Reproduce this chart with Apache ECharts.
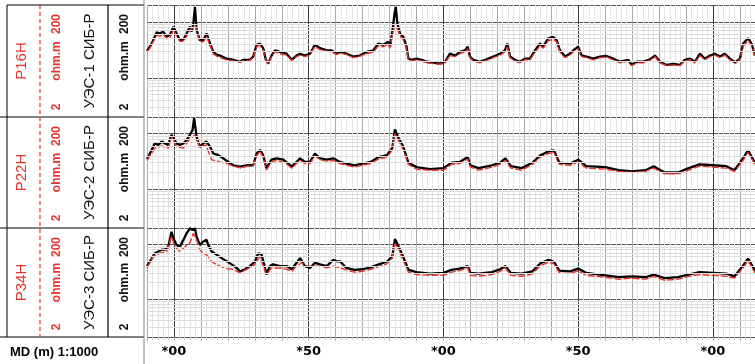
<!DOCTYPE html>
<html>
<head>
<meta charset="utf-8">
<script src="https://cdn.jsdelivr.net/npm/echarts@6/dist/echarts.min.js"></script>
<style>
  html, body { margin: 0; padding: 0; background: #fff; }
  #chart { width: 755px; height: 364px; }
</style>
</head>
<body>
<div id="chart"></div>
<script>
// depth is metres from the first "*00" mark, resistivity in ohm.m
const track1Black = [
  [-10, 30], [-8.9, 36], [-7.7, 47], [-6.4, 65], [-5.2, 62], [-4.0, 67], [-2.7, 54], [-1.5, 58],
  [-0.2, 82], [1.0, 62], [2.2, 47], [3.5, 48], [4.7, 62], [5.9, 82], [6.6, 67], [7.2, 94],
  [7.8, 186], [8.4, 72], [9.6, 47], [10.9, 47], [12.1, 62], [13.4, 41], [14.6, 29], [15.8, 26],
  [17.1, 25], [19.6, 22], [22.0, 21], [24.5, 19.4], [25.7, 21], [28.2, 21], [29.4, 24], [30.7, 39],
  [31.9, 41], [33.1, 34], [34.1, 21], [35.0, 18], [36.2, 25], [37.5, 31], [39.3, 29], [41.8, 27],
  [43.7, 21], [45.5, 25], [46.8, 27], [48.6, 25], [50.5, 27], [52.3, 39], [54.2, 34], [56.7, 31],
  [58.5, 31], [60.4, 27], [61.6, 29], [64.1, 27], [66.5, 24], [69.0, 25], [71.5, 29], [74.0, 31],
  [75.8, 41], [77.7, 39], [79.5, 44], [80.2, 36], [81.1, 72], [81.8, 133], [82.3, 186], [82.9, 94],
  [83.9, 62], [85.1, 54], [86.3, 36], [87.0, 22], [88.2, 21], [90.0, 22], [91.9, 21], [93.8, 19.4],
  [96.2, 18.8], [98.7, 18], [100.6, 19.4], [102.4, 27], [104.3, 25], [106.1, 29], [108.0, 31],
  [109.0, 36], [109.8, 24], [111.1, 21], [113.5, 19.4], [116.0, 21.4], [118.5, 24], [121.0, 27],
  [122.8, 31], [123.7, 41], [124.7, 24], [126.5, 21], [128.4, 19.4], [130.2, 22], [132.1, 22],
  [134.0, 31], [135.8, 41], [137.0, 36], [138.9, 51], [140.7, 54], [142.0, 47], [143.2, 31],
  [145.1, 24], [146.9, 27], [148.2, 31], [150.0, 36], [151.3, 25], [153.1, 24], [155.6, 22],
  [158.1, 24], [160.5, 24.6], [163.0, 22], [165.5, 19.4], [168.6, 21], [169.8, 17], [171.7, 19.4],
  [174.1, 19.4], [176.6, 21.4], [178.5, 25], [180.3, 19.4], [182.8, 17], [185.3, 17.7], [187.7, 17],
  [189.6, 21], [191.5, 22], [193.3, 19.4], [195.2, 27], [197.0, 22], [198.9, 25], [200.7, 27],
  [202.6, 24], [204.4, 27], [206.3, 22], [208.2, 18.8], [210.0, 22], [211.2, 41], [213.1, 51],
  [214.3, 41], [215.6, 25]
];
const track1Red = [
  [-10, 29], [-8.9, 34], [-7.7, 44], [-6.4, 58], [-5.2, 55], [-4.0, 60], [-2.7, 50], [-1.5, 52],
  [-0.2, 72], [1.0, 56], [2.2, 45], [3.5, 45], [4.7, 55], [5.9, 70], [7.2, 80], [7.8, 88],
  [8.4, 66], [9.6, 45], [10.9, 44], [12.1, 55], [13.4, 38], [14.6, 27], [15.8, 24.5], [17.1, 23],
  [19.6, 21], [22.0, 20], [24.5, 19], [25.7, 20], [28.2, 20.5], [29.4, 23], [30.7, 36], [31.9, 38],
  [33.1, 31], [34.1, 20], [35.0, 17.5], [36.2, 24], [37.5, 29], [39.3, 27], [41.8, 25.5], [43.7, 20.5],
  [45.5, 24], [46.8, 25.5], [48.6, 24], [50.5, 26], [52.3, 36], [54.2, 32], [56.7, 30], [58.5, 29],
  [60.4, 26], [61.6, 28], [64.1, 26], [66.5, 23], [69.0, 24.5], [71.5, 27], [74.0, 29], [75.8, 37],
  [77.7, 36], [79.5, 40], [80.2, 34], [81.1, 60], [81.8, 82], [82.3, 88], [82.9, 75], [83.9, 56],
  [85.1, 48], [86.3, 33], [87.0, 21], [88.2, 20], [90.0, 21], [91.9, 20], [93.8, 18.5], [96.2, 18],
  [98.7, 17.5], [100.6, 18.5], [102.4, 25], [104.3, 24], [106.1, 27], [108.0, 29], [109.0, 33],
  [109.8, 23], [111.1, 20], [113.5, 18.5], [116.0, 20.5], [118.5, 23], [121.0, 25.5], [122.8, 29],
  [123.7, 36], [124.7, 23], [126.5, 20], [128.4, 18.5], [130.2, 21], [132.1, 21], [134.0, 29],
  [135.8, 37], [137.0, 34], [138.9, 46], [140.7, 49], [142.0, 44], [143.2, 29], [145.1, 23],
  [146.9, 25.5], [148.2, 29], [150.0, 33], [151.3, 24], [153.1, 23], [155.6, 21], [158.1, 23],
  [160.5, 23.5], [163.0, 21], [165.5, 18.5], [168.6, 20], [169.8, 16.5], [171.7, 18.5], [174.1, 18.5],
  [176.6, 20.5], [178.5, 24], [180.3, 18.5], [182.8, 16.5], [185.3, 17], [187.7, 16.5], [189.6, 20],
  [191.5, 21], [193.3, 18.5], [195.2, 25], [197.0, 21], [198.9, 24], [200.7, 25.5], [202.6, 23],
  [204.4, 25.5], [206.3, 21], [208.2, 18], [210.0, 21], [211.2, 37], [213.1, 46], [214.3, 38],
  [215.6, 24]
];

const track2Black = [
  [-10, 35], [-8.9, 44], [-7.1, 67], [-5.8, 63], [-4.6, 72], [-3.3, 67], [-2.1, 63], [-0.9, 95],
  [-0.2, 88], [1.0, 67], [2.2, 63], [3.5, 67], [4.7, 77], [5.9, 95], [6.9, 117], [7.5, 190],
  [8.4, 88], [9.6, 58], [10.9, 67], [12.1, 72], [13.4, 58], [14.6, 44], [16.5, 41], [18.3, 36],
  [20.2, 31], [22.0, 27], [24.5, 25.5], [27.0, 27], [29.4, 27], [30.7, 44], [31.9, 51], [33.1, 41],
  [34.3, 24], [36.2, 34], [38.1, 36], [40.6, 34], [42.4, 29], [43.7, 25.5], [45.5, 31], [46.8, 36],
  [48.6, 31], [50.5, 31], [52.3, 44], [54.2, 36], [56.7, 34], [59.1, 36], [61.6, 31],
  [64, 29], [67, 27], [70, 29], [73, 31], [76, 38], [79, 41], [81, 55], [82, 120], [83, 90],
  [85, 60], [87, 30], [90, 25], [95, 23], [100, 24], [103, 30], [106, 31], [109, 38], [110, 27],
  [113, 24], [118, 27], [121, 30], [123, 36], [125, 26], [129, 24], [133, 30], [136, 41], [139, 48],
  [141, 50], [143, 30], [147, 29], [150, 34], [153, 26], [160, 25], [165, 22], [170, 21], [175, 22],
  [178, 26], [182, 20], [187, 20], [191, 24], [195, 28], [200, 27], [205, 26], [208, 22], [211, 35],
  [213, 50], [215.6, 30]
];
const track2Red = [
  [-10, 33], [-8.9, 40], [-7.1, 55], [-4.6, 60], [-2.1, 55], [-0.8, 88], [1.0, 58], [3.5, 55],
  [5.9, 80], [7.7, 95], [9.6, 58], [11.9, 63], [13.0, 45], [14.0, 34], [17.0, 31], [19.6, 29],
  [22.8, 25.5], [25.0, 24], [27.0, 26], [29.4, 27], [30.7, 40], [31.9, 48], [33.1, 38], [34.3, 22],
  [36.2, 31], [38.1, 33], [40.6, 31], [42.4, 27], [43.7, 24], [45.5, 29], [46.8, 33], [48.6, 29],
  [50.5, 29], [52.3, 40], [54.2, 34], [56.7, 32], [59.1, 33], [61.6, 29],
  [64, 27], [67, 25], [70, 27], [73, 29], [76, 35], [79, 38], [81, 50], [82, 100], [83, 80],
  [85, 52], [87, 28], [90, 23], [95, 22], [100, 22], [103, 28], [106, 29], [109, 35], [110, 25],
  [113, 22], [118, 25], [121, 28], [123, 33], [125, 24], [129, 22], [133, 28], [136, 38], [139, 44],
  [141, 46], [143, 28], [147, 27], [150, 31], [153, 24], [160, 23], [165, 21], [170, 20], [175, 21],
  [178, 24], [182, 19], [187, 19], [191, 22], [195, 26], [200, 25], [205, 24], [208, 21], [211, 32],
  [213, 46], [215.6, 28]
];

const track3Black = [
  [-10, 40], [-8.9, 49], [-7.05, 69], [-5.8, 74], [-4.6, 80], [-3.3, 80], [-2.1, 91], [-0.9, 171],
  [-0.2, 130], [1.0, 98], [2.2, 91], [3.5, 121], [4.7, 160], [5.9, 197], [6.9, 184], [7.8, 197],
  [8.4, 139], [9.6, 98], [10.9, 113], [12.1, 121], [12.7, 98], [14.0, 74], [15.8, 65], [17.7, 56],
  [19.6, 49], [21.4, 43], [23.3, 37], [24.5, 32], [26.4, 35], [28.2, 40], [30.1, 49], [31.3, 69],
  [32.5, 65], [33.8, 37], [34.3, 28], [35.6, 40], [36.8, 43], [39.3, 40], [41.8, 40], [43.7, 35],
  [45.5, 46], [46.8, 56], [48.6, 40], [50.5, 37], [52.3, 46], [54.2, 43], [56.7, 40], [59.1, 52],
  [60.4, 49], [61.6, 49],
  [64, 37], [67, 34], [70, 35], [73, 38], [76, 43], [79, 48], [81, 60], [82, 125], [83, 100],
  [85, 60], [87, 34], [90, 31], [95, 29], [100, 30], [103, 34], [106, 36], [109, 40], [110, 30],
  [113, 29], [118, 31], [121, 35], [123, 40], [125, 30], [129, 29], [133, 32], [136, 45], [139, 52],
  [141, 48], [143, 33], [147, 32], [150, 36], [153, 30], [160, 27], [165, 25], [170, 26], [175, 25],
  [178, 28], [182, 24], [187, 25], [191, 28], [195, 31], [200, 30], [205, 29], [208, 26], [211, 40],
  [213, 55], [215.6, 33]
];
const track3Red = [
  [-10, 37], [-7.7, 60], [-5.2, 69], [-2.7, 74], [-0.9, 139], [0.4, 91], [2.2, 74], [4.1, 91],
  [5.9, 105], [7.2, 160], [8.4, 121], [9.6, 80], [10.9, 69], [12.1, 65], [13.4, 52], [14.6, 46],
  [17.1, 40], [19.6, 36], [22.0, 35], [24.5, 30], [27.0, 35], [29.4, 40], [30.7, 49], [31.9, 60],
  [33.1, 40], [34.3, 28], [36.2, 37], [39.3, 37], [41.8, 35], [43.7, 32], [45.5, 40], [47.4, 46],
  [49.3, 40], [51.7, 40], [54.2, 40], [56.7, 37], [59.1, 40], [61.6, 37],
  [64, 34], [67, 31], [70, 32], [73, 35], [76, 39], [79, 44], [81, 55], [82, 105], [83, 85],
  [85, 52], [87, 31], [90, 28], [95, 27], [100, 27], [103, 31], [106, 33], [109, 37], [110, 27],
  [113, 26], [118, 28], [121, 32], [123, 37], [125, 27], [129, 26], [133, 29], [136, 41], [139, 47],
  [141, 44], [143, 30], [147, 29], [150, 33], [153, 27], [160, 25], [165, 23], [170, 24], [175, 23],
  [178, 26], [182, 22], [187, 23], [191, 26], [195, 28], [200, 27], [205, 26], [208, 24], [211, 36],
  [213, 50], [215.6, 30]
];

const trackNames = ['P16H', 'P22H', 'P34H'];
const curveNames = ['УЭС-1 СИБ-Р', 'УЭС-2 СИБ-Р', 'УЭС-3 СИБ-Р'];
const scaleMin = '2', scaleMax = '200', scaleUnit = 'ohm.m';
const depthLabels = { 0: '*00', 50: '*50', 100: '*00', 150: '*50', 200: '*00' };
const minorGrid = [3, 4, 5, 6, 7, 8, 9, 20, 30, 40, 50, 60, 70, 80, 90];

const blackData = [track1Black, track2Black, track3Black];
const redData = [track1Red, track2Red, track3Red];

// layout of the three tracks (pixels)
const TRACKS = [
  { top: 5, bottom: 117 },
  { top: 117, bottom: 228 },
  { top: 228, bottom: 337 }
];
const PLOT_LEFT = 147;
const RED = '#e8332b';

const chart = echarts.init(document.getElementById('chart'), null, { renderer: 'canvas' });

const grids = [], xAxes = [], yAxes = [], series = [], graphics = [];

TRACKS.forEach((t, i) => {
  const last = i === TRACKS.length - 1;
  grids.push({ left: PLOT_LEFT, right: 0, top: t.top, height: t.bottom - t.top });
  xAxes.push({
    gridIndex: i,
    type: 'value',
    min: -10,
    max: 215.6,
    interval: 10,
    axisLine: { show: false },
    axisTick: { show: last, length: 4, lineStyle: { color: '#b0b0b0' } },
    minorTick: { show: last, splitNumber: 5, length: 3, lineStyle: { color: '#c8c8c8' } },
    axisLabel: {
      show: last,
      margin: 8,
      color: '#000',
      fontFamily: 'DejaVu Sans',
      fontWeight: 'bold',
      fontSize: 13,
      showMinLabel: false,
      showMaxLabel: false,
      formatter: (v) => depthLabels[Math.round(v)] || ''
    },
    splitLine: {
      show: true,
      lineStyle: { color: ['#a8a8a8', '#3a3a3a', '#a8a8a8', '#a8a8a8', '#a8a8a8'], width: 1 }
    },
    minorSplitLine: { show: true, lineStyle: { color: '#e4e4e4', width: 1 } }
  });
  yAxes.push({
    gridIndex: i,
    type: 'log',
    logBase: 10,
    min: 2,
    max: 200,
    axisLine: { show: false },
    axisTick: { show: false },
    axisLabel: { show: false },
    splitLine: { show: true, lineStyle: { color: '#555', width: 1 } }
  });

  series.push({
    type: 'line',
    xAxisIndex: i,
    yAxisIndex: i,
    data: blackData[i],
    showSymbol: false,
    silent: true,
    lineStyle: { color: '#000', width: 2.3 },
    animation: false,
    markLine: {
      silent: true,
      symbol: 'none',
      animation: false,
      label: { show: false },
      lineStyle: { color: '#dcdcdc', width: 1, type: 'solid' },
      data: minorGrid.map((v) => ({ yAxis: v }))
    },
    z: 3
  });
  series.push({
    type: 'line',
    xAxisIndex: i,
    yAxisIndex: i,
    data: redData[i],
    showSymbol: false,
    silent: true,
    lineStyle: { color: RED, width: 1.4, type: [7, 2] },
    animation: false,
    z: 4
  });

  // header cells for this track
  const mid = (t.top + t.bottom) / 2;
  graphics.push({
    type: 'line', shape: { x1: 0, y1: t.bottom, x2: 144, y2: t.bottom },
    style: { stroke: '#000', lineWidth: 1 }
  });
  graphics.push({
    type: 'line', shape: { x1: 108, y1: t.top, x2: 108, y2: t.bottom },
    style: { stroke: '#000', lineWidth: 1.2 }
  });
  graphics.push({
    type: 'text', x: 22, y: mid, rotation: Math.PI / 2,
    style: { text: trackNames[i], fill: RED, font: '15px "Liberation Sans", Arial', align: 'center', verticalAlign: 'middle' }
  });
  graphics.push({
    type: 'text', x: 90, y: mid, rotation: Math.PI / 2,
    style: { text: curveNames[i], fill: '#111', font: '15px "Liberation Sans", Arial', align: 'center', verticalAlign: 'middle' }
  });
  [[57, RED], [125, '#111']].forEach(([cx, col]) => {
    graphics.push({
      type: 'text', x: cx, y: t.top + 19, rotation: Math.PI / 2,
      style: { text: scaleMax, fill: col, font: 'bold 12px "Liberation Sans", Arial', align: 'center', verticalAlign: 'middle' }
    });
    graphics.push({
      type: 'text', x: cx, y: mid, rotation: Math.PI / 2,
      style: { text: scaleUnit, fill: col, font: 'bold 12px "Liberation Sans", Arial', align: 'center', verticalAlign: 'middle' }
    });
    graphics.push({
      type: 'text', x: cx, y: t.bottom - 10, rotation: Math.PI / 2,
      style: { text: scaleMin, fill: col, font: 'bold 12px "Liberation Sans", Arial', align: 'center', verticalAlign: 'middle' }
    });
  });
});

// outer header frame, dashed red divider, plot separator
graphics.push(
  { type: 'line', shape: { x1: 7, y1: 5, x2: 144, y2: 5 }, style: { stroke: '#000', lineWidth: 1 } },
  { type: 'line', shape: { x1: 7, y1: 5, x2: 7, y2: 337 }, style: { stroke: '#000', lineWidth: 1 } },
  { type: 'line', shape: { x1: 40, y1: 5, x2: 40, y2: 337 }, style: { stroke: RED, lineWidth: 1.2, lineDash: [4, 3] } },
  { type: 'line', shape: { x1: 144, y1: 0, x2: 144, y2: 364 }, style: { stroke: '#888', lineWidth: 1 } },
  {
    type: 'text', x: 10, y: 352,
    style: { text: 'MD (m) 1:1000', fill: '#000', font: 'bold 13px "Liberation Sans", Arial', align: 'left', verticalAlign: 'middle' }
  }
);

chart.setOption({
  backgroundColor: '#fff',
  animation: false,
  grid: grids,
  xAxis: xAxes,
  yAxis: yAxes,
  series: series,
  graphic: { elements: graphics }
});
</script>
</body>
</html>
